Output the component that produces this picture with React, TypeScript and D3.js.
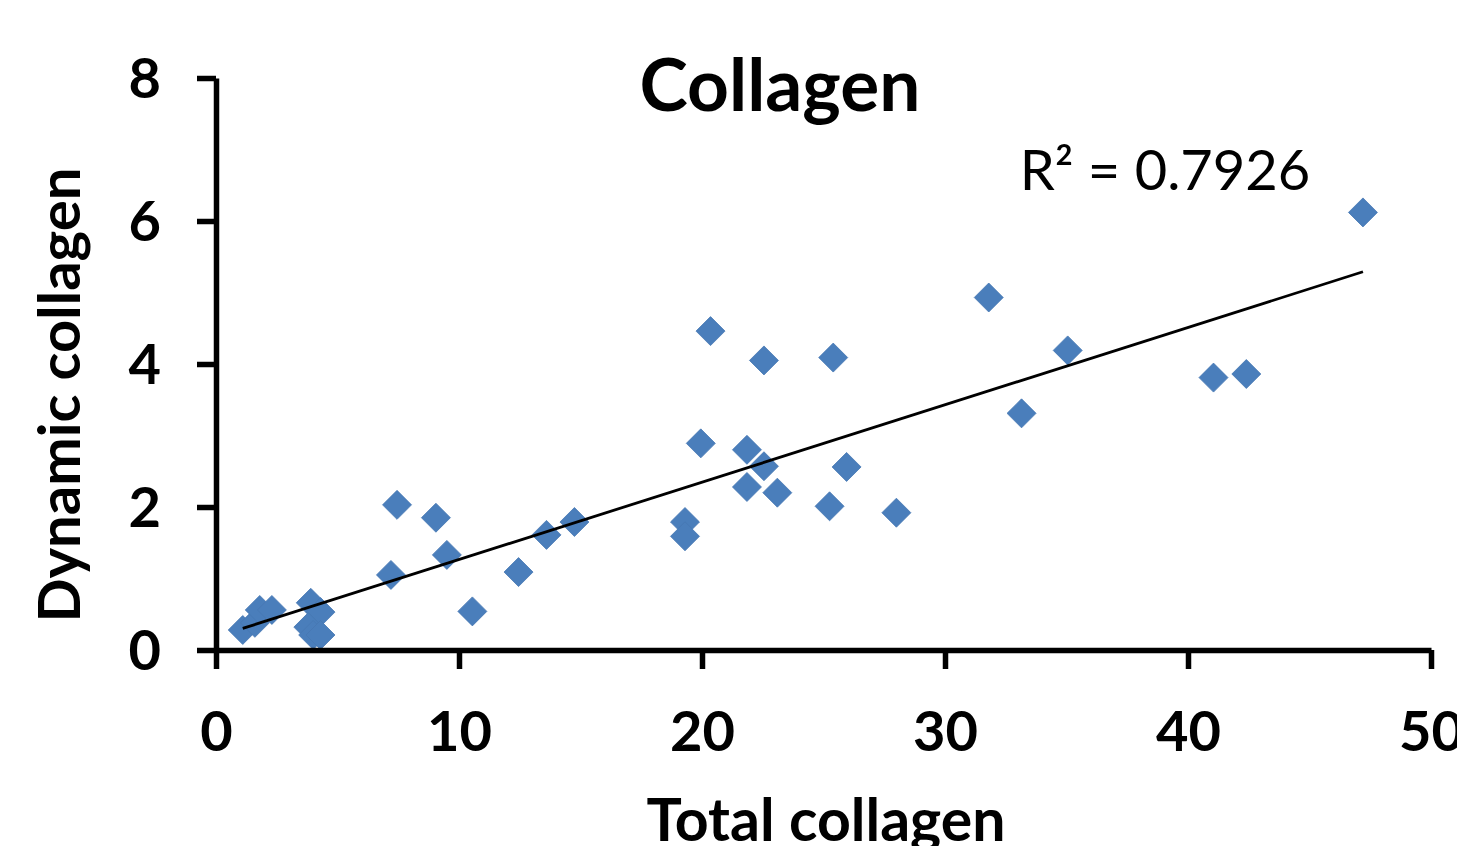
import { useEffect, useRef } from 'react';
import { select, scaleLinear, axisLeft, axisBottom, line } from 'd3';

// values
const totalCollagen = [
  1.1, 1.6, 1.8, 2.3, 3.9, 4.3, 3.8, 4.0, 4.3, 7.2, 7.45, 9.05, 9.5, 10.55,
  12.45, 13.6, 14.75, 19.3, 19.3, 19.95, 20.35, 21.85, 21.85, 22.55, 22.55,
  23.1, 25.25, 25.4, 25.95, 28.0, 31.8, 33.15, 35.05, 41.05, 42.4, 47.2
];
const dynamicCollagen = [
  0.28, 0.38, 0.56, 0.56, 0.66, 0.53, 0.32, 0.21, 0.21, 1.05, 2.03, 1.85, 1.33, 0.54,
  1.09, 1.61, 1.79, 1.79, 1.59, 2.89, 4.46, 2.80, 2.28, 4.05, 2.57,
  2.20, 2.01, 4.09, 2.56, 1.92, 4.93, 3.31, 4.19, 3.81, 3.86, 6.12
];
const xTicks = [0, 10, 20, 30, 40, 50];
const yTicks = [0, 2, 4, 6, 8];
const trendSlope = 0.1082;
const trendIntercept = 0.183;
const rSquaredLabel = 'R² = 0.7926';

const W = 1457;
const H = 846;
const font = 'Lato, "Open Sans", sans-serif';

export default function App() {
  const svgRef = useRef<SVGSVGElement>(null);

  useEffect(() => {
    const svg = select(svgRef.current);
    svg.selectAll('*').remove();

    const x = scaleLinear().domain([0, 50]).range([216, 1431]);
    const y = scaleLinear().domain([0, 8]).range([650, 78]);

    // trendline over the data range
    const xMin = Math.min(...totalCollagen);
    const xMax = Math.max(...totalCollagen);
    const trend = line<number>()
      .x(d => x(d))
      .y(d => y(trendSlope * d + trendIntercept));

    // markers
    const pts = totalCollagen.map((v, i) => [v, dynamicCollagen[i]]);
    const r = 14.5;
    svg.append('g')
      .selectAll('path')
      .data(pts)
      .join('path')
      .attr('d', d => {
        const cx = x(d[0]);
        const cy = y(d[1]);
        return `M${cx},${cy - r}L${cx + r},${cy}L${cx},${cy + r}L${cx - r},${cy}Z`;
      })
      .attr('fill', '#4A7EBB')
      .attr('stroke', '#4677b2')
      .attr('stroke-width', 0.8);

    svg.append('path')
      .datum([xMin, xMax])
      .attr('d', trend)
      .attr('fill', 'none')
      .attr('stroke', '#000')
      .attr('stroke-width', 2.8);

    // axes
    const yAxis = svg.append('g')
      .attr('transform', `translate(${x(0)},0)`)
      .call(axisLeft(y).tickValues(yTicks).tickSize(19).tickSizeOuter(0).tickPadding(36));
    const xAxis = svg.append('g')
      .attr('transform', `translate(0,${y(0)})`)
      .call(axisBottom(x).tickValues(xTicks).tickSize(19).tickSizeOuter(0).tickPadding(42));

    [yAxis, xAxis].forEach(g => {
      g.select('.domain').attr('stroke', '#000').attr('stroke-width', 5.5);
      g.selectAll('.tick line').attr('stroke', '#000').attr('stroke-width', 5.5);
      g.selectAll('.tick text')
        .attr('fill', '#000')
        .style('font-family', font)
        .style('font-weight', 'bold')
        .style('font-size', '56px');
    });
    yAxis.selectAll('.tick text').attr('dy', '0.35em');

    // titles
    svg.append('text')
      .attr('x', 780).attr('y', 111)
      .attr('text-anchor', 'middle')
      .style('font-family', font).style('font-weight', 'bold').style('font-size', '73px')
      .text('Collagen');

    svg.append('text')
      .attr('transform', 'translate(80,395) rotate(-90)')
      .attr('text-anchor', 'middle')
      .style('font-family', font).style('font-weight', 'bold').style('font-size', '58px')
      .text('Dynamic collagen');

    svg.append('text')
      .attr('x', 826).attr('y', 841)
      .attr('text-anchor', 'middle')
      .style('font-family', font).style('font-weight', 'bold').style('font-size', '59px')
      .text('Total collagen');

    svg.append('text')
      .attr('x', 1165).attr('y', 190)
      .attr('text-anchor', 'middle')
      .style('font-family', font).style('font-size', '56px')
      .text(rSquaredLabel);
  }, []);

  return (
    <svg
      ref={svgRef}
      width={W}
      height={H}
      style={{ position: 'absolute', left: 0, top: 0, background: '#fff' }}
    />
  );
}
